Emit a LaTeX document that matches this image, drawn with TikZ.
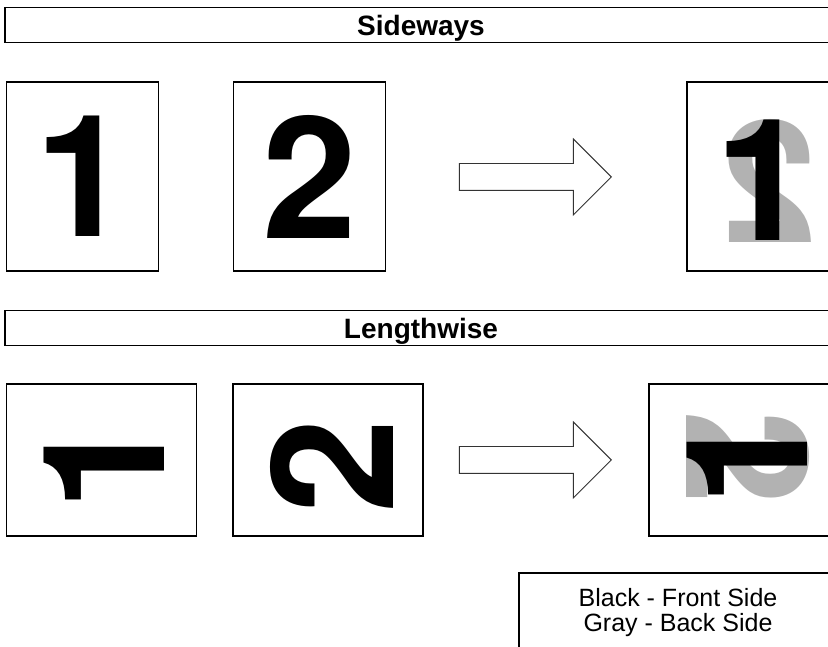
\documentclass[tikz,border=0pt]{standalone}
\usepackage{fontspec}
\setmainfont{Liberation Sans}
\newfontfamily\heros{TeX Gyre Heros}
\usetikzlibrary{shapes.arrows, positioning}

\begin{document}
\begin{tikzpicture}[
    x=1pt, y=1pt,
    banner/.style={draw, line width=1.4pt, minimum width=832pt, minimum height=35pt,
                   inner sep=0pt, text depth=0pt, font=\fontsize{28}{28}\selectfont\bfseries},
    sheet/.style={draw, line width=1.3pt, inner sep=0pt},
    tall/.style={sheet, minimum width=152pt, minimum height=189pt},
    wide/.style={sheet, minimum width=190pt, minimum height=152pt},
    digit/.style={inner sep=0pt, font=\heros\fontsize{170}{170}\selectfont\bfseries},
    backdigit/.style={digit, text=black!30},
    turn/.style={single arrow, draw=black!80, line width=0.9pt, inner xsep=0pt, inner ysep=13pt,
                 minimum height=152pt, minimum width=75pt, single arrow head extend=24.5pt,
                 anchor=tip},
    legend/.style={draw, line width=1.3pt, minimum width=318pt, minimum height=79pt,
                   align=center, font=\fontsize{25}{25}\selectfont}
]
\useasboundingbox (0,0) rectangle (828,647);

% Sideways
\node[banner] (side) at (421,622) {Sideways};
\node[tall] (s1) at (82.5,470.5) {};
\node[digit] (s1n) at (s1) {1};
\node[tall] (s2) at (309.5,470.5) {};
\node[digit] (s2n) at (s2) {2};
\node[turn] (sarrow) at (612,470) {};
\node[tall] (sr) at (763,470.5) {};
\node[backdigit, xscale=-1] (srback) at (769,466) {2};
\node[digit] (srfront) at (763,467) {1};

% Lengthwise
\node[banner] (long) at (421,319) {Lengthwise};
\node[wide] (l1) at (101.5,187) {};
\node[digit, rotate=90] (l1n) at (104,183) {1};
\node[wide] (l2) at (328,187) {};
\node[digit, rotate=90] (l2n) at (332,181) {2};
\node[turn] (larrow) at (612,187) {};
\node[wide] (lr) at (744,187) {};
\node[backdigit, rotate=-90] (lrback) at (748,189) {2};
\node[digit, rotate=90] (lrfront) at (747,188) {1};

% key
\node[legend] (key) at (678,34.5) {Black - Front Side\\Gray - Back Side};

\end{tikzpicture}
\end{document}
